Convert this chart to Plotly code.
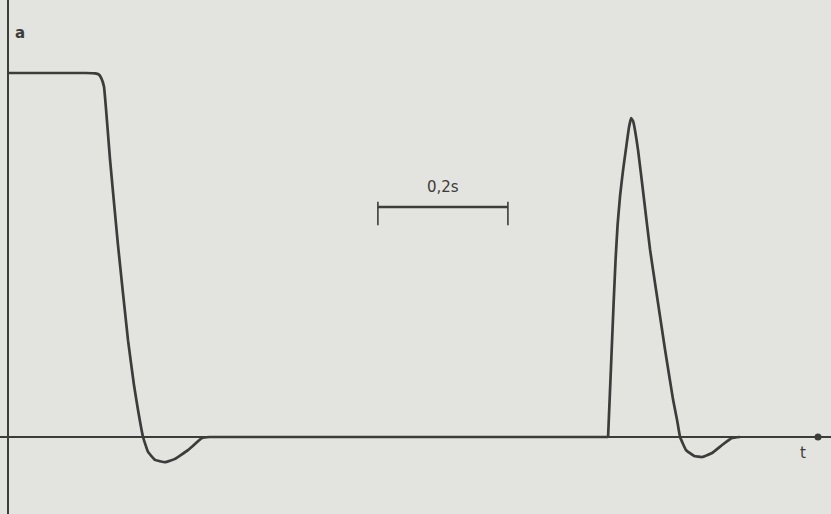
import plotly.graph_objects as go

# Data (time in s, amplitude in plateau units)
t_drop = [0.0, 0.12, 0.134, 0.1395, 0.1435, 0.1477, 0.157, 0.1692, 0.1846, 0.1938, 0.2,
          0.2077, 0.2154, 0.2262, 0.2415, 0.2569, 0.2769, 0.2985, 0.31]
a_drop = [1.0, 1.0, 0.999, 0.996, 0.986, 0.962, 0.761, 0.527, 0.266, 0.143, 0.074,
          0.0, -0.041, -0.063, -0.069, -0.060, -0.036, -0.003, 0.0]

t_base = [0.31, 0.9231]
a_base = [0.0, 0.0]

t_pulse = [0.9231, 0.9277, 0.9315, 0.9346, 0.9377, 0.9415, 0.9462, 0.9508,
           0.9554, 0.9585, 0.9615, 0.9692, 0.9785, 0.9877, 0.9969, 1.0108,
           1.0231, 1.0292, 1.0338, 1.043, 1.0554, 1.0677, 1.0831, 1.0985, 1.1138, 1.126]
a_pulse = [0.0, 0.198, 0.363, 0.486, 0.582, 0.662, 0.734, 0.794,
           0.852, 0.876, 0.868, 0.788, 0.651, 0.514, 0.404, 0.239,
           0.102, 0.047, 0.0, -0.036, -0.052, -0.055, -0.044, -0.022, -0.003, 0.0]

scale_t = [0.569, 0.769]
scale_a = 0.632
scale_label = "0,2s"

ink = "#3c3c3a"
bg = "#e3e3df"

fig = go.Figure()
for tx, ay in [(t_drop, a_drop), (t_base, a_base), (t_pulse, a_pulse)]:
    fig.add_trace(go.Scatter(x=tx, y=ay, mode="lines",
                             line=dict(color=ink, width=2.7, shape="spline", smoothing=0.3),
                             hoverinfo="skip"))

# scale bar
fig.add_trace(go.Scatter(x=scale_t, y=[scale_a, scale_a], mode="lines",
                         line=dict(color=ink, width=2.4), hoverinfo="skip"))
for st in scale_t:
    fig.add_trace(go.Scatter(x=[st, st], y=[scale_a + 0.014, scale_a - 0.05], mode="lines",
                             line=dict(color=ink, width=1.6), hoverinfo="skip"))
fig.add_annotation(x=sum(scale_t) / 2, y=scale_a + 0.055, text=scale_label, showarrow=False,
                   font=dict(family="DejaVu Sans", size=15, color=ink), yanchor="middle")

# axis end dot
fig.add_trace(go.Scatter(x=[1.246], y=[0.0], mode="markers",
                         marker=dict(color=ink, size=7), hoverinfo="skip", cliponaxis=False))

fig.add_annotation(x=0.019, y=1.11, text="<b>a</b>", showarrow=False,
                   font=dict(family="DejaVu Sans", size=15, color=ink))
fig.add_annotation(x=1.223, y=-0.044, text="t", showarrow=False,
                   font=dict(family="DejaVu Sans", size=15, color=ink))

fig.update_layout(
    width=831, height=514, margin=dict(l=0, r=0, t=0, b=0),
    paper_bgcolor=bg, plot_bgcolor=bg, showlegend=False,
    xaxis=dict(range=[-0.0123, 1.266], showgrid=False, showticklabels=False,
               zeroline=True, zerolinecolor=ink, zerolinewidth=2, ticks=""),
    yaxis=dict(range=[-0.2115, 1.2005], showgrid=False, showticklabels=False,
               zeroline=True, zerolinecolor=ink, zerolinewidth=2, ticks=""),
)
fig.write_html("out.html", config={"displayModeBar": False},
               post_script="document.body.style.margin='0';document.body.style.background='#e3e3df';")
